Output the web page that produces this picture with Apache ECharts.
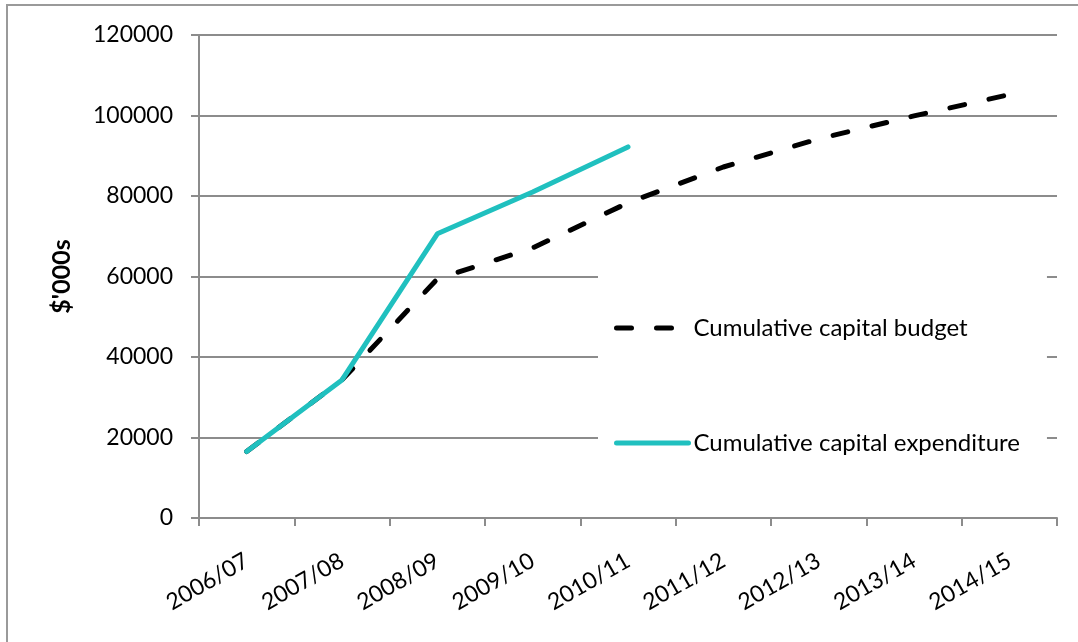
<!DOCTYPE html>
<html lang="en">
<head>
    <meta charset="UTF-8">
    <title>Cumulative capital</title>
    <script src="https://cdn.jsdelivr.net/npm/echarts@6/dist/echarts.min.js"></script>
    <style>
        html, body { margin: 0; padding: 0; background: #fff; }
        #container { width: 1078px; height: 642px; }
    </style>
</head>
<body>
<div id="container"></div>
<script>
    var years = ['2006/07', '2007/08', '2008/09', '2009/10', '2010/11', '2011/12', '2012/13', '2013/14', '2014/15'];
    var budget = [16500, 34300, 59400, 67100, 78300, 87200, 94200, 99900, 105200];
    var expenditure = [16500, 34300, 70600, 81000, 92200, null, null, null, null];

    var font = 'Lato, "Open Sans", sans-serif';
    var gray = '#8c8c8c';

    var myChart = echarts.init(document.getElementById('container'));

    var option = {
        animation: false,
        textStyle: { fontFamily: font },
        grid: { left: 199, right: 21, top: 35, bottom: 124 },
        graphic: [{
            type: 'rect',
            shape: { x: 7, y: 5, width: 1200, height: 800 },
            style: { fill: null, stroke: '#9a9a9a', lineWidth: 2 },
            silent: true
        }],
        legend: {
            orient: 'vertical',
            left: 598,
            top: 264,
            padding: [50, 27, 40, 16],
            backgroundColor: '#fff',
            itemWidth: 72,
            itemHeight: 14,
            itemGap: 87,
            itemStyle: { opacity: 0 },
            lineStyle: { width: 5, cap: 'round' },
            textStyle: { fontFamily: font, fontSize: 24, color: '#000', lineHeight: 28 },
            data: ['Cumulative capital budget', 'Cumulative capital expenditure']
        },
        xAxis: {
            type: 'category',
            data: years,
            boundaryGap: true,
            axisLine: { lineStyle: { color: gray, width: 2 } },
            axisTick: { show: true, length: 8, lineStyle: { color: gray, width: 2 } },
            axisLabel: { rotate: 30, margin: 41, color: '#000', fontSize: 23, fontFamily: font }
        },
        yAxis: {
            type: 'value',
            min: 0,
            max: 120000,
            interval: 20000,
            name: "$'000s",
            nameLocation: 'middle',
            nameGap: 125,
            nameTextStyle: { fontFamily: font, fontSize: 25, fontWeight: 'bold', color: '#000' },
            axisLine: { show: true, lineStyle: { color: gray, width: 2 } },
            axisTick: { show: true, length: 8, lineStyle: { color: gray, width: 2 } },
            axisLabel: {
                margin: 26, color: '#000', fontSize: 23, fontFamily: font,
                formatter: function (v) { return String(v); }
            },
            splitLine: { lineStyle: { color: gray, width: 2 } }
        },
        series: [{
            type: 'line',
            name: 'Cumulative capital budget',
            data: budget,
            symbol: 'none',
            color: '#000',
            lineStyle: { color: '#000', width: 5, type: [15, 25], cap: 'round', join: 'round' }
        }, {
            type: 'line',
            name: 'Cumulative capital expenditure',
            data: expenditure,
            symbol: 'none',
            color: '#20c0bf',
            lineStyle: { color: '#20c0bf', width: 5, cap: 'round', join: 'round' }
        }]
    };

    myChart.setOption(option);
</script>
</body>
</html>
